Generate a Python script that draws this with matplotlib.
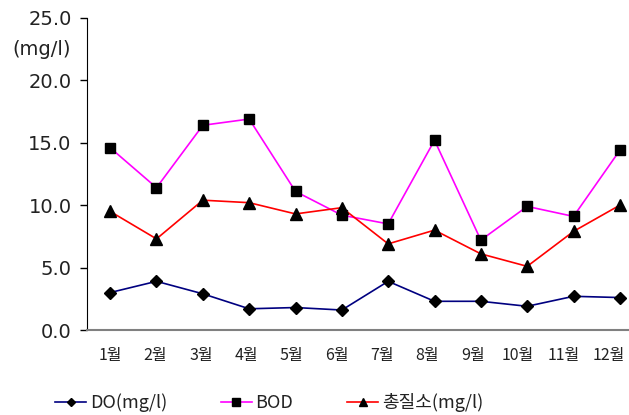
import matplotlib
matplotlib.use("Agg")
import matplotlib.pyplot as plt
from matplotlib.transforms import ScaledTranslation

plt.rcParams['font.family'] = ['Noto Sans CJK KR', 'DejaVu Sans']

# Data
months = ['1월', '2월', '3월', '4월', '5월', '6월', '7월', '8월', '9월', '10월', '11월', '12월']
do_vals = [3.0, 3.9, 2.9, 1.7, 1.8, 1.6, 3.9, 2.3, 2.3, 1.9, 2.7, 2.6]
bod_vals = [14.6, 11.4, 16.4, 16.9, 11.1, 9.2, 8.5, 15.2, 7.2, 9.9, 9.1, 14.4]
tn_vals = [9.5, 7.3, 10.4, 10.2, 9.3, 9.8, 6.9, 8.0, 6.1, 5.1, 7.9, 10.0]
yticks = [0, 5, 10, 15, 20, 25]

fig = plt.figure(figsize=(6.29, 4.15), dpi=100)
ax = fig.add_axes([0.1383, 0.2048, 0.884, 0.752])

x = list(range(len(months)))
ax.plot(x, do_vals, color='#000080', lw=1.2, marker='D', ms=6, mfc='black', mec='black', label='DO(mg/l)')
ax.plot(x, bod_vals, color='#FF00FF', lw=1.2, marker='s', ms=7.5, mfc='black', mec='black', label='BOD')
ax.plot(x, tn_vals, color='#FF0000', lw=1.2, marker='^', ms=8, mfc='black', mec='black', label='총질소(mg/l)')

ax.set_xlim(-0.5, 11.5)
ax.set_ylim(0, 25)
ax.set_yticks(yticks)
ax.set_yticklabels([f'{v:.1f}' for v in yticks], fontsize=14, color='#222222',
                   family=['DejaVu Sans'])
ax.set_xticks(x)
ax.set_xticklabels(months, fontsize=11.5, color='#222222')
ax.tick_params(axis='x', length=0, pad=12)
ax.tick_params(axis='y', length=5, width=1, direction='out', pad=6)

# month labels sit a little tighter than the markers in the original
for i, lab in enumerate(ax.get_xticklabels()):
    lab.set_transform(lab.get_transform() + ScaledTranslation(-i / 100, 0, fig.dpi_scale_trans))

for s in ['top', 'right']:
    ax.spines[s].set_visible(False)
ax.spines['left'].set_color('black')
ax.spines['bottom'].set_color('#808080')
ax.spines['bottom'].set_linewidth(1.5)

fig.text(0.019, 0.88, '(mg/l)', fontsize=14, color='#222222', ha='left', va='center',
         family=['DejaVu Sans'])

leg = fig.legend(*ax.get_legend_handles_labels(), loc='center left', bbox_to_anchor=(0.088, 0.03),
                 ncol=3, frameon=False, fontsize=13, handlelength=1.7, columnspacing=3.0,
                 handletextpad=0.2, markerscale=0.75, borderpad=0, borderaxespad=0)
for t in leg.get_texts():
    t.set_color('#222222')

fig.savefig('out.png', dpi=100)
